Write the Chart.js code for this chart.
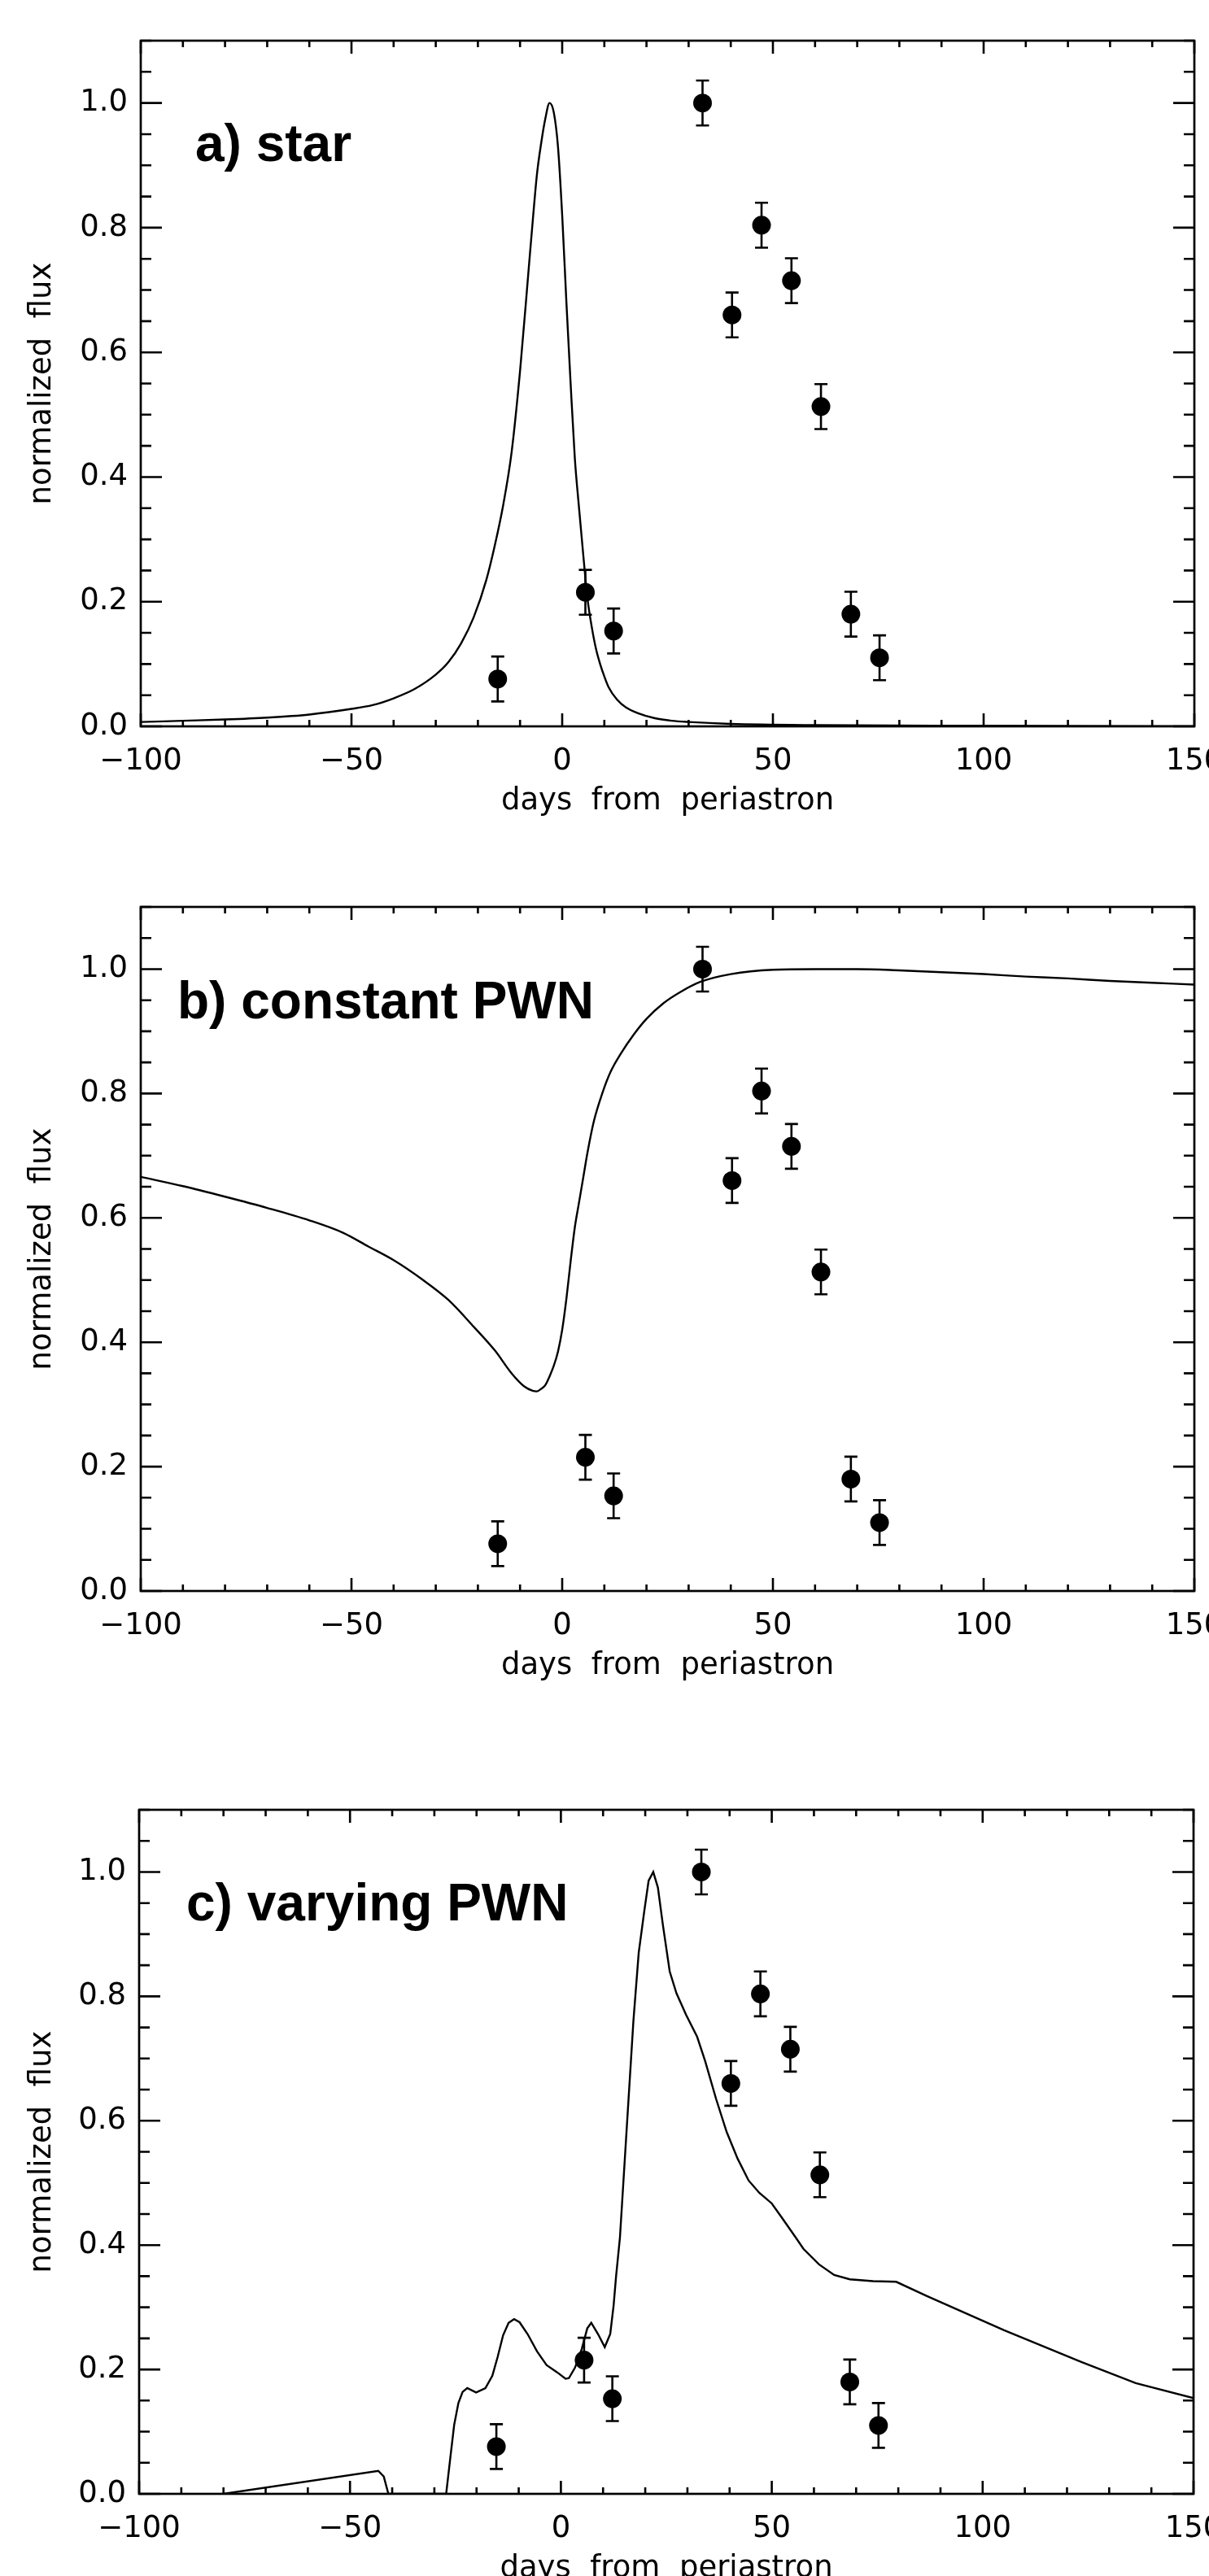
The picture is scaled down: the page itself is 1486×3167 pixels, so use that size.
<!DOCTYPE html>
<html>
<head>
<meta charset="utf-8">
<title>normalized flux vs days from periastron</title>
<script src="https://cdn.jsdelivr.net/npm/chart.js@4.4.1/dist/chart.umd.min.js"></script>
<style>
  html, body { margin: 0; padding: 0; background: #fff; }
  body { width: 1486px; height: 3167px; overflow: hidden; position: relative; }
  canvas { position: absolute; left: 0; }
</style>
</head>
<body>
<canvas id="panel-a" width="1486" height="1100" style="top:0px"></canvas>
<canvas id="panel-b" width="1486" height="1100" style="top:1050px"></canvas>
<canvas id="panel-c" width="1486" height="1100" style="top:2150px"></canvas>
<script>
// observed points (same in every panel)
const obsDays = [-15.3, 5.5, 12.2, 33.3, 40.3, 47.3, 54.4, 61.4, 68.5, 75.3];
const obsFlux = [0.076, 0.215, 0.153, 1.000, 0.660, 0.804, 0.715, 0.513, 0.180, 0.110];
const obsErr  = [0.036, 0.036, 0.036, 0.036, 0.036, 0.036, 0.036, 0.036, 0.036, 0.036];

// a) star model
const starDays = [-100, -90, -80, -70, -60, -50, -45, -40, -35, -30, -27, -24, -21, -18, -16, -14, -12, -10, -8, -7, -6, -5, -4, -3, -2, -1,
  0, 1, 2, 3, 4, 5, 6, 7, 8, 9, 10, 11, 13, 15, 18, 22, 26, 30, 40, 60, 100, 150];
const starFlux = [0.007, 0.009, 0.011, 0.014, 0.019, 0.028, 0.034, 0.045, 0.060, 0.083, 0.103, 0.133, 0.175, 0.235, 0.29, 0.355, 0.44, 0.57, 0.73, 0.81, 0.885, 0.935, 0.975, 1.0, 0.985, 0.93,
  0.82, 0.68, 0.55, 0.43, 0.35, 0.275, 0.205, 0.16, 0.125, 0.10, 0.08, 0.063, 0.043, 0.031, 0.021, 0.013, 0.009, 0.007, 0.004, 0.002, 0.001, 0.0];

// b) constant PWN model
const constDays = [-100, -90, -80, -70, -60, -52, -46, -40, -33, -27, -21, -16, -12, -9, -7, -6, -5, -4, -3, -2, -1,
  0, 1, 2, 3, 4, 5, 6, 7.5, 9.5, 11.5, 14, 17, 20, 24, 28, 33, 40, 50, 60, 70, 80, 90, 100, 110, 120, 130, 140, 150];
const constFlux = [0.666, 0.651, 0.634, 0.616, 0.596, 0.576, 0.554, 0.532, 0.500, 0.468, 0.425, 0.387, 0.350, 0.329, 0.322, 0.321, 0.325, 0.331, 0.345, 0.362, 0.385,
  0.42, 0.47, 0.53, 0.585, 0.625, 0.665, 0.705, 0.755, 0.80, 0.835, 0.865, 0.895, 0.92, 0.945, 0.963, 0.980, 0.992, 0.999, 1.0, 1.0, 0.998, 0.995, 0.992, 0.988, 0.985, 0.981, 0.978, 0.975];

// c) varying PWN model
const varyDays = [-80, -43.3, -42, -40.9, -27.2, -26.2, -25.3, -24.3, -23.3, -22.2, -20.1, -17.9, -16.25, -15, -13.7, -12.4, -11.1, -9.8, -7.9, -5.65, -3.4, -0.8,
  1.1, 1.9, 3.35, 4.95, 6.25, 7.2, 8.8, 10.4, 11.7, 12.5, 13.1, 14.0, 15.6, 17.2, 18.45, 19.75, 20.8, 21.9, 23.0, 24.2, 25.8, 27.4, 29.7, 32.3, 34.2, 36.8, 39.3,
  41.9, 44.5, 47.05, 50, 52.5, 55.7, 57.5, 61.2, 64.8, 68.5, 74, 79.5, 86.8, 105.1, 123.4, 136.3, 150];
const varyFlux = [0, 0.037, 0.028, 0, 0, 0.059, 0.111, 0.146, 0.164, 0.170, 0.163, 0.170, 0.190, 0.220, 0.255, 0.275, 0.281, 0.276, 0.257, 0.229, 0.207, 0.195,
  0.185, 0.186, 0.203, 0.233, 0.266, 0.275, 0.257, 0.236, 0.257, 0.303, 0.351, 0.412, 0.587, 0.761, 0.870, 0.936, 0.986, 1.0, 0.975, 0.914, 0.840, 0.805, 0.770, 0.735, 0.696, 0.635, 0.582,
  0.539, 0.504, 0.484, 0.467, 0.443, 0.412, 0.394, 0.369, 0.352, 0.345, 0.342, 0.341, 0.318, 0.263, 0.212, 0.178, 0.154];

const xMin = -100, xMax = 150, xStep = 10, xMajor = 50;
const yMin = 0, yMax = 1.1, yStep = 0.05, yMajor = 0.2;

Chart.defaults.font.family = 'DejaVu Sans';
Chart.defaults.color = '#000';

const isMajorY = v => Math.abs(v / yMajor - Math.round(v / yMajor)) < 1e-6;
const isMajorX = v => Math.abs(v % xMajor) < 1e-6;

// box around the plot with inward ticks on all four sides
const boxTicks = {
  id: 'boxTicks',
  afterDraw(chart) {
    const {ctx, chartArea: a, scales: {x, y}} = chart;
    ctx.save();
    ctx.strokeStyle = '#000';
    ctx.lineWidth = 2.6;
    ctx.beginPath();
    x.ticks.forEach(t => {
      const px = x.getPixelForValue(t.value);
      const len = isMajorX(t.value) ? 16 : 8;
      ctx.moveTo(px, a.bottom); ctx.lineTo(px, a.bottom - len);
      ctx.moveTo(px, a.top); ctx.lineTo(px, a.top + len);
    });
    y.ticks.forEach(t => {
      const py = y.getPixelForValue(t.value);
      const len = isMajorY(t.value) ? 26 : 13;
      ctx.moveTo(a.left, py); ctx.lineTo(a.left + len, py);
      ctx.moveTo(a.right, py); ctx.lineTo(a.right - len, py);
    });
    ctx.stroke();
    ctx.lineWidth = 2.7;
    ctx.strokeRect(a.left, a.top, a.right - a.left, a.bottom - a.top);
    ctx.restore();
  }
};

const errorBars = {
  id: 'errorBars',
  beforeDatasetsDraw(chart) {
    const {ctx, scales: {x, y}} = chart;
    ctx.save();
    ctx.strokeStyle = '#000';
    ctx.lineWidth = 2.6;
    ctx.beginPath();
    obsDays.forEach((d, i) => {
      const px = x.getPixelForValue(d);
      const hi = y.getPixelForValue(obsFlux[i] + obsErr[i]);
      const lo = y.getPixelForValue(obsFlux[i] - obsErr[i]);
      ctx.moveTo(px, hi); ctx.lineTo(px, lo);
      ctx.moveTo(px - 8, hi); ctx.lineTo(px + 8, hi);
      ctx.moveTo(px - 8, lo); ctx.lineTo(px + 8, lo);
    });
    ctx.stroke();
    ctx.restore();
  }
};

const panelLabel = {
  id: 'panelLabel',
  afterDraw(chart, args, opts) {
    const ctx = chart.ctx;
    ctx.save();
    ctx.font = 'bold 64px "Liberation Sans", Arial, sans-serif';
    ctx.fillStyle = '#000';
    ctx.textBaseline = 'alphabetic';
    ctx.fillText(opts.text, opts.x, opts.y);
    ctx.restore();
  }
};

// no extra room for labels sticking out past the plot box
function noPad(s) {
  s.paddingLeft = 0; s.paddingRight = 0; s.paddingTop = 0; s.paddingBottom = 0;
}

function makePanel(id, days, flux, smooth, area, label) {
  const H = 1100;
  const lh = 37 * 1.2;
  return new Chart(document.getElementById(id), {
    type: 'scatter',
    data: {
      datasets: [
        {
          type: 'line',
          data: days.map((d, i) => ({x: d, y: flux[i]})),
          borderColor: '#000',
          borderWidth: 2.4,
          pointRadius: 0,
          fill: false,
          tension: 0,
          cubicInterpolationMode: smooth ? 'monotone' : 'default'
        },
        {
          type: 'scatter',
          data: obsDays.map((d, i) => ({x: d, y: obsFlux[i]})),
          pointRadius: 11.5,
          pointBackgroundColor: '#000',
          pointBorderWidth: 0
        }
      ]
    },
    options: {
      responsive: false,
      animation: false,
      devicePixelRatio: 1,
      events: [],
      layout: {
        autoPadding: false,
        padding: {top: area.top, right: 1486 - area.right, left: 0, bottom: 0}
      },
      plugins: {
        legend: {display: false},
        tooltip: {enabled: false},
        panelLabel: label
      },
      scales: {
        x: {
          type: 'linear',
          min: xMin, max: xMax,
          afterFit: s => { s.height = H - area.bottom; noPad(s); },
          grid: {display: false, drawTicks: false},
          border: {display: false},
          ticks: {
            stepSize: xStep,
            autoSkip: false,
            maxRotation: 0,
            padding: 21,
            font: {size: 37},
            callback: v => isMajorX(v) ? (v < 0 ? '\u2212' + Math.abs(v) : String(v)) : ''
          },
          title: {
            display: true,
            text: 'days  from  periastron',
            font: {size: 37},
            padding: {top: 0, bottom: H - area.bottom - 92 - lh / 2}
          }
        },
        y: {
          type: 'linear',
          min: yMin, max: yMax,
          afterFit: s => { s.width = area.left; noPad(s); },
          grid: {display: false, drawTicks: false},
          border: {display: false},
          ticks: {
            stepSize: yStep,
            autoSkip: false,
            maxTicksLimit: 100,
            padding: 16,
            font: {size: 37},
            callback: v => isMajorY(v) ? v.toFixed(1) : ''
          },
          title: {
            display: true,
            text: 'normalized  flux',
            font: {size: 37},
            padding: {top: 52 - lh / 2, bottom: 0}
          }
        }
      }
    },
    plugins: [errorBars, boxTicks, panelLabel]
  });
}

makePanel('panel-a', starDays, starFlux, true,
  {left: 173, right: 1468, top: 50, bottom: 893}, {text: 'a) star', x: 240, y: 198});
makePanel('panel-b', constDays, constFlux, true,
  {left: 173, right: 1468, top: 65, bottom: 906}, {text: 'b) constant PWN', x: 218, y: 202});
makePanel('panel-c', varyDays, varyFlux, false,
  {left: 171, right: 1467, top: 75, bottom: 916}, {text: 'c) varying PWN', x: 229, y: 211});
</script>
</body>
</html>
